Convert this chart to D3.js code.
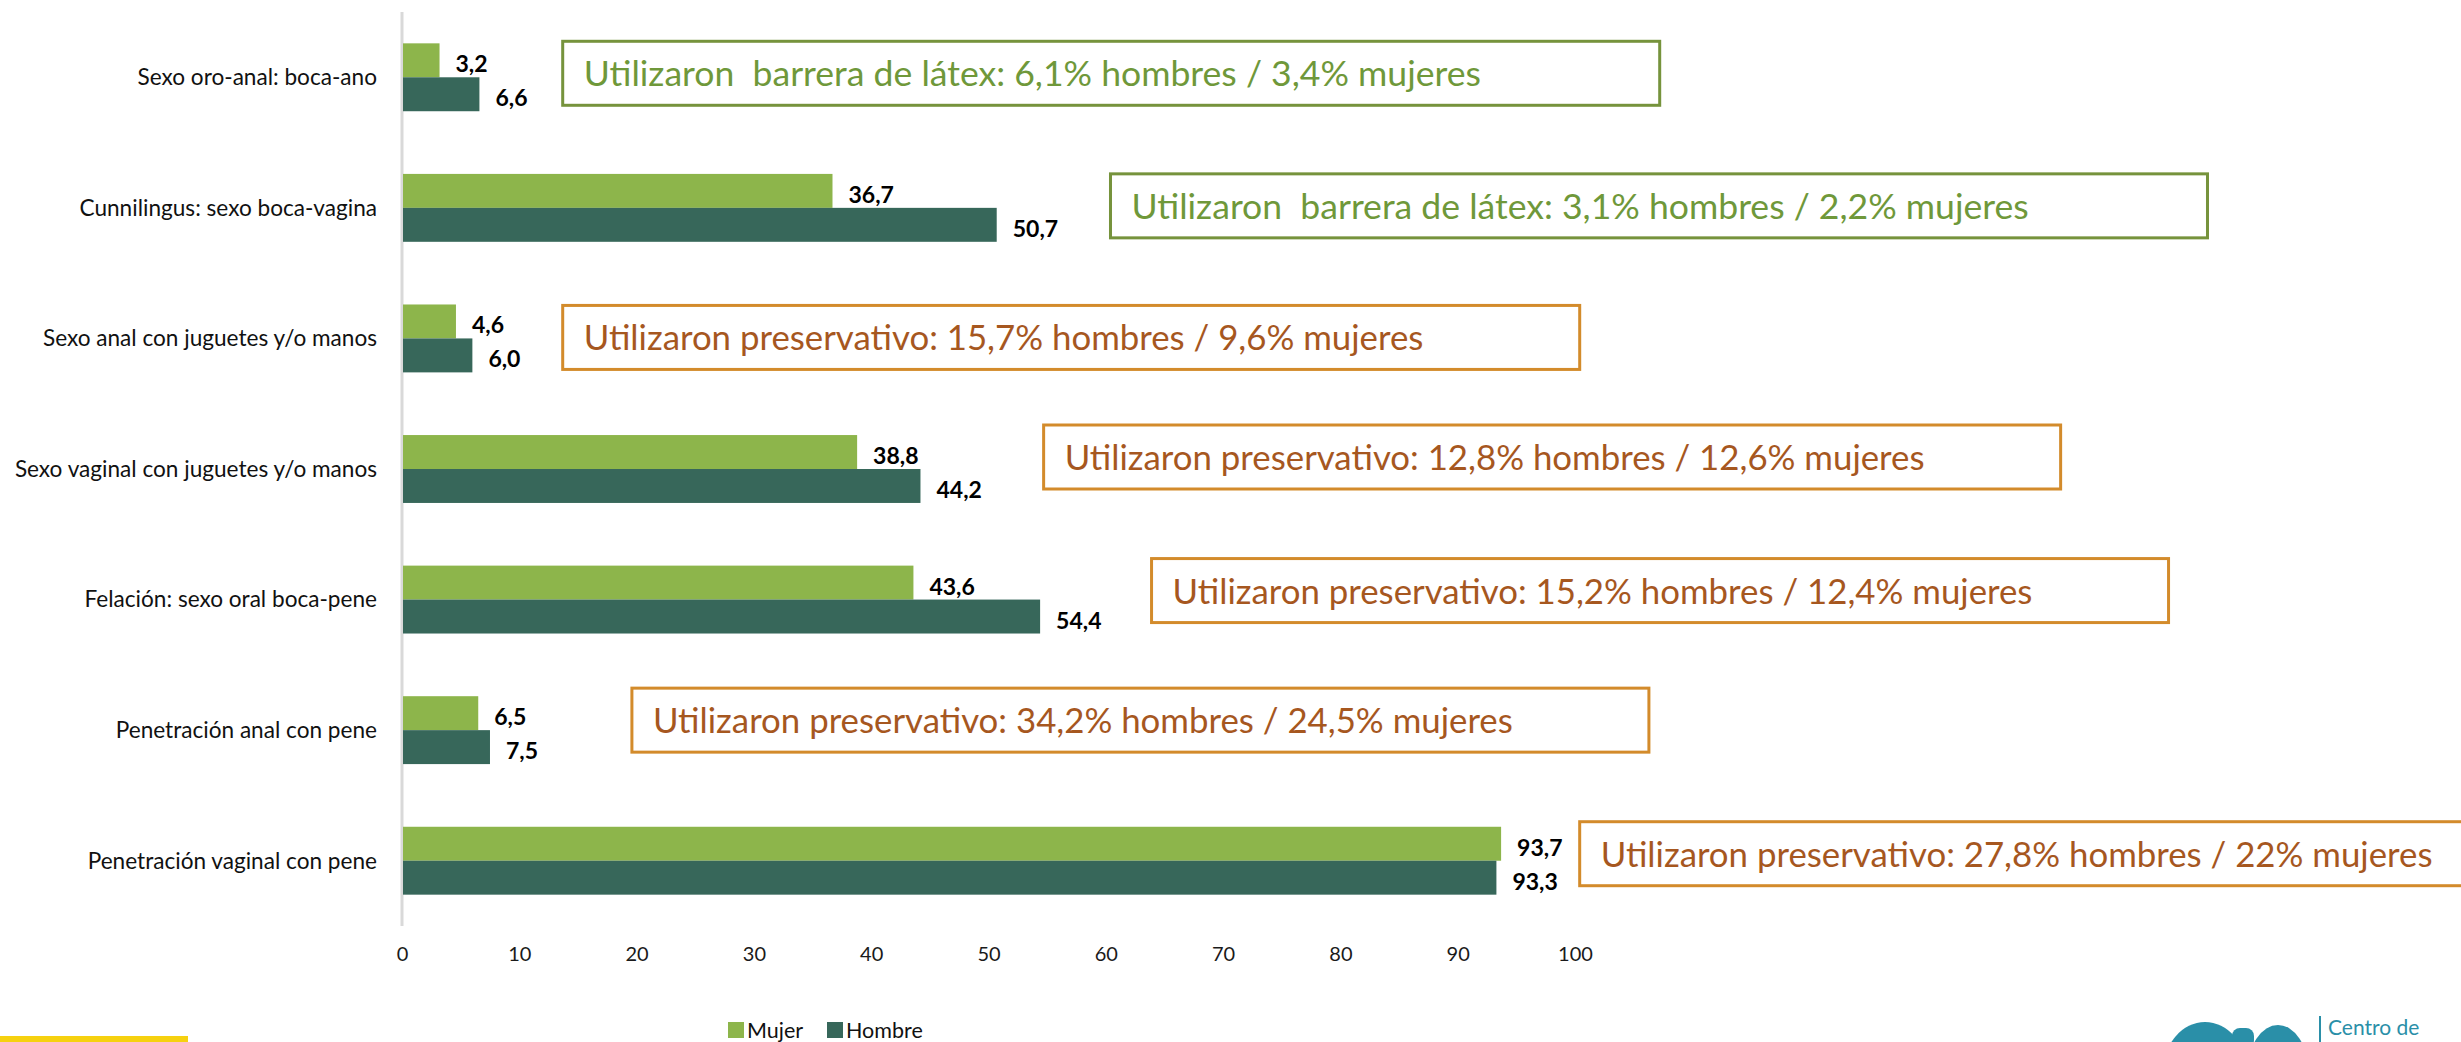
<!DOCTYPE html>
<html>
<head>
<meta charset="utf-8">
<script src="https://cdn.jsdelivr.net/npm/d3@7"></script>
<style>
  html, body { margin: 0; padding: 0; background: #fff; overflow: hidden; }
  svg { display: block; font-family: Lato, "Open Sans", sans-serif; }
</style>
</head>
<body>
<svg id="vis-1"></svg>
<script>

WIDTH = 2461;
HEIGHT = 1042;

// datos (de arriba hacia abajo)
const categorias = [
    "Sexo oro-anal: boca-ano",
    "Cunnilingus: sexo boca-vagina",
    "Sexo anal con juguetes y/o manos",
    "Sexo vaginal con juguetes y/o manos",
    "Felación: sexo oral boca-pene",
    "Penetración anal con pene",
    "Penetración vaginal con pene"
];
const mujer  = [3.2, 36.7, 4.6, 38.8, 43.6, 6.5, 93.7];
const hombre = [6.6, 50.7, 6.0, 44.2, 54.4, 7.5, 93.3];

// recuadros: método de protección y porcentajes
const metodo = ["barrera", "barrera", "preservativo", "preservativo", "preservativo", "preservativo", "preservativo"];
const usoHombres = [6.1, 3.1, 15.7, 12.8, 15.2, 34.2, 27.8];
const usoMujeres = [3.4, 2.2, 9.6, 12.6, 12.4, 24.5, 22];

const series = ["Mujer", "Hombre"];
const ticks = [0, 10, 20, 30, 40, 50, 60, 70, 80, 90, 100];

// donde se ubica cada recuadro (en unidades del eje x, y desplazamiento vertical)
const notaX  = [13.7, 60.4, 13.7, 54.7, 63.9, 19.6, 100.4];
const notaDy = [-4, -2, -1, -12, -9, -10, -7];

const colores = { Mujer: "#8db54b", Hombre: "#37675a" };
const estilos = {
    barrera:      { borde: "#76933c", texto: "#6f983a", ancho: 1097 },
    preservativo: { borde: "#d38b2b", texto: "#a6571f", ancho: 1017 }
};

const coma = v => String(v).replace(".", ",");
const fmt1 = v => d3.format(".1f")(v).replace(".", ",");

const SVG = d3.select("#vis-1")
    .attr("width", WIDTH)
    .attr("height", HEIGHT);

const x = d3.scaleLinear().domain([0, 100]).range([402, 1575]);
const y = d3.scaleBand().domain(categorias).range([12, 926])
    .paddingInner(0.48).paddingOuter(0.24);
const ySub = d3.scaleBand().domain(series).range([0, y.bandwidth()]);

// eje vertical
SVG.append("line")
    .attr("x1", x(0)).attr("x2", x(0))
    .attr("y1", 12).attr("y2", 926)
    .attr("stroke", "#d9d9d9").attr("stroke-width", 3);

// eje x
const xAxis = SVG.append("g")
    .attr("transform", "translate(0,947)")
    .call(d3.axisBottom(x).tickValues(ticks).tickSize(0).tickPadding(0));
xAxis.select(".domain").remove();
xAxis.selectAll("text")
    .attr("font-family", "Lato, sans-serif")
    .attr("font-size", 20)
    .attr("fill", "#1a1a1a");

// etiquetas de categoría
SVG.append("g")
    .selectAll("text")
    .data(categorias)
    .join("text")
    .attr("x", 377)
    .attr("y", d => y(d) + y.bandwidth() / 2)
    .attr("dy", "0.35em")
    .attr("text-anchor", "end")
    .attr("font-size", 22.6)
    .attr("fill", "#111")
    .text(d => d);

// barras
const filas = categorias.map((c, i) => ({ cat: c, i: i, Mujer: mujer[i], Hombre: hombre[i] }));

const grupo = SVG.append("g")
    .selectAll("g")
    .data(filas)
    .join("g")
    .attr("transform", d => `translate(0,${y(d.cat)})`);

grupo.selectAll("rect")
    .data(d => series.map(s => ({ s: s, v: d[s] })))
    .join("rect")
    .attr("x", x(0) + 1)
    .attr("y", d => ySub(d.s))
    .attr("width", d => x(d.v) - x(0) - 1)
    .attr("height", ySub.bandwidth())
    .attr("fill", d => colores[d.s]);

grupo.selectAll("text")
    .data(d => series.map(s => ({ s: s, v: d[s] })))
    .join("text")
    .attr("x", d => x(d.v) + 16)
    .attr("y", d => ySub(d.s) + ySub.bandwidth() - 5)
    .attr("font-size", 23)
    .attr("font-weight", "bold")
    .attr("fill", "#000")
    .text(d => fmt1(d.v));

// recuadros con uso de protección
const notas = SVG.append("g")
    .selectAll("g")
    .data(filas)
    .join("g")
    .attr("transform", d => `translate(${x(notaX[d.i])},${y(d.cat) + y.bandwidth() / 2 + notaDy[d.i] - 32})`);

notas.append("rect")
    .attr("width", d => estilos[metodo[d.i]].ancho)
    .attr("height", 64)
    .attr("fill", "#fff")
    .attr("stroke", d => estilos[metodo[d.i]].borde)
    .attr("stroke-width", 3);

notas.append("text")
    .attr("x", 21)
    .attr("y", 45)
    .attr("font-size", d => metodo[d.i] === "barrera" ? 35.6 : 34.8)
    .attr("fill", d => estilos[metodo[d.i]].texto)
    .attr("xml:space", "preserve")
    .style("white-space", "pre")
    .text(d => {
        const m = metodo[d.i] === "barrera" ? "Utilizaron  barrera de látex: " : "Utilizaron preservativo: ";
        return `${m}${coma(usoHombres[d.i])}% hombres / ${coma(usoMujeres[d.i])}% mujeres`;
    });

// leyenda
const leyenda = SVG.append("g")
    .attr("transform", "translate(728,1030)")
    .selectAll("g")
    .data(series)
    .join("g")
    .attr("transform", (d, i) => `translate(${i * 99},0)`);
leyenda.append("rect")
    .attr("y", -8).attr("width", 16).attr("height", 16)
    .attr("fill", d => colores[d]);
leyenda.append("text")
    .attr("x", 19).attr("dy", "0.35em")
    .attr("font-size", 21.5)
    .attr("fill", "#111")
    .text(d => d);

// franja amarilla inferior
SVG.append("rect")
    .attr("x", 0).attr("y", 1036)
    .attr("width", 188).attr("height", 6)
    .attr("fill", "#f6d10f");

// logo (parte visible)
const logo = SVG.append("g").attr("fill", "#2a8fa8");
logo.append("ellipse").attr("cx", 2205).attr("cy", 1072).attr("rx", 42).attr("ry", 50);
logo.append("ellipse").attr("cx", 2215).attr("cy", 1080).attr("rx", 16).attr("ry", 30).attr("fill", "#fff");
logo.append("rect").attr("x", 2232).attr("y", 1028).attr("width", 22).attr("height", 20).attr("rx", 8);
logo.append("ellipse").attr("cx", 2278).attr("cy", 1070).attr("rx", 30).attr("ry", 45);
logo.append("rect").attr("x", 2319).attr("y", 1016).attr("width", 2).attr("height", 26);
logo.append("text")
    .attr("x", 2328).attr("y", 1035)
    .attr("font-size", 21)
    .text("Centro de");

</script>
</body>
</html>
